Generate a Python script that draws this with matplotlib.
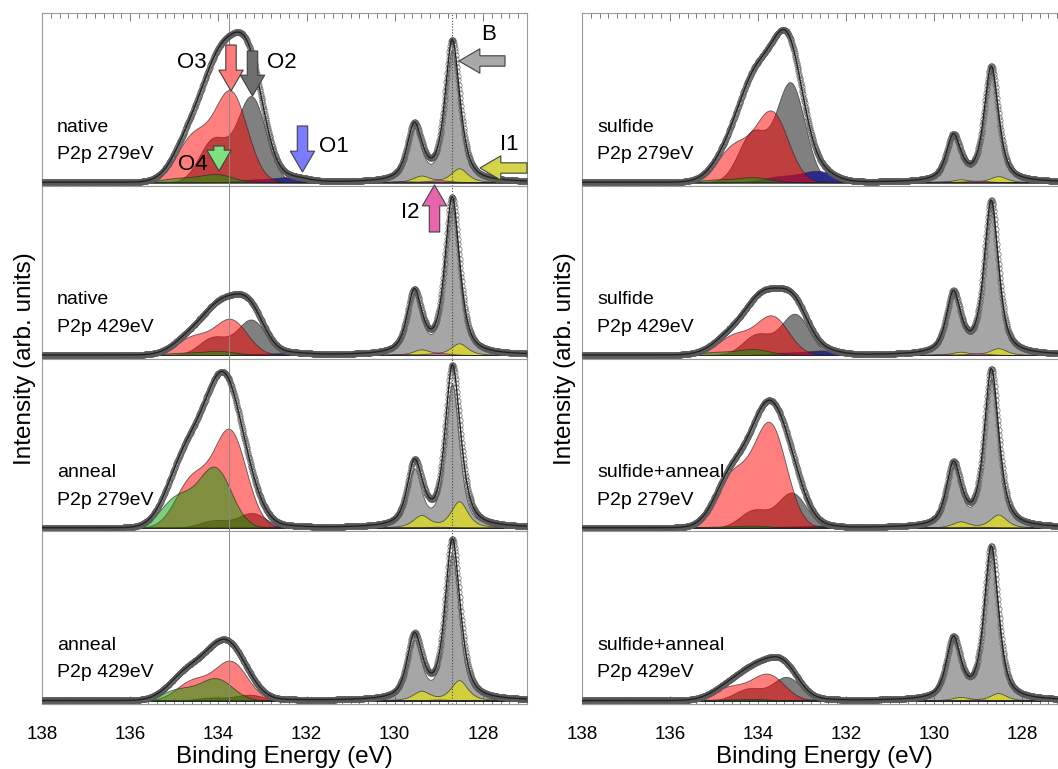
import numpy as np
import matplotlib
matplotlib.use("Agg")
import matplotlib.pyplot as plt
from matplotlib.ticker import FixedLocator, MultipleLocator

plt.rcParams['font.family'] = ['Liberation Sans', 'DejaVu Sans']

# ---------------- data ----------------
# panel order: left column top->bottom, then right column top->bottom
sample = ["native", "native", "anneal", "anneal",
          "sulfide", "sulfide", "sulfide+anneal", "sulfide+anneal"]
excitation = ["P2p 279eV", "P2p 429eV", "P2p 279eV", "P2p 429eV",
              "P2p 279eV", "P2p 429eV", "P2p 279eV", "P2p 429eV"]

# peak positions (eV) of the P2p3/2 line of each component
E_O1 = [132.35, 132.35, 132.40, 132.40, 132.64, 132.52, 132.60, 132.60]
E_O2 = [133.25, 133.25, 133.24, 133.30, 133.26, 133.16, 133.23, 133.35]
E_O3 = [133.72, 133.72, 133.74, 133.72, 133.69, 133.68, 133.73, 133.78]
E_O4 = [134.05, 134.00, 134.08, 134.05, 134.10, 134.10, 134.10, 134.10]
E_B = [128.70] * 8
E_I1 = [128.54] * 8
E_I2 = [129.00] * 8

# peak heights (arb. units) of the P2p3/2 line of each component
H_O1 = [5, 2, 1.5, 0.5, 11, 4.3, 2, 1]
H_O2 = [85, 35, 14.5, 5.7, 98.7, 40.7, 34.7, 23.3]
H_O3 = [89, 35, 95.6, 38.5, 69.3, 38.3, 102.3, 26]
H_O4 = [8, 4, 59, 21.6, 5, 5.7, 2, 1.5]
H_B = [130.6, 147.6, 142.4, 145.3, 110, 147.7, 147.8, 147.4]
H_I1 = [13.7, 11.5, 26, 20, 6, 6.7, 13, 7.3]
H_I2 = [2, 2, 1, 1, 1.5, 1.5, 1, 1]

# line shape per component: FWHM (eV), Lorentz fraction, 1/2 : 3/2 ratio
SO_SPLIT = 0.86
shape = {
    "O2": (0.754, 0.0, 0.50),
    "O1": (0.871, 0.0, 0.50),
    "O3": (0.871, 0.0, 0.50),
    "O4": (0.871, 0.0, 0.50),
    "B":  (0.38, 0.6, 0.39),
    "I1": (0.45, 0.6, 0.45),
    "I2": (0.60, 0.3, 0.50),
}
positions = {"O1": E_O1, "O2": E_O2, "O3": E_O3, "O4": E_O4,
             "B": E_B, "I1": E_I1, "I2": E_I2}
heights = {"O1": H_O1, "O2": H_O2, "O3": H_O3, "O4": H_O4,
           "B": H_B, "I1": H_I1, "I2": H_I2}

# ---------------- styles ----------------
fill_style = {
    "O2": ('#808080', 1),
    "O1": ('#2b2b8c', 2),
    "O3": ((1.0, 0.0, 0.0, 0.5), 3),
    "O4": ((0.0, 0.62, 0.0, 0.5), 4),
    "B":  ('#a6a6a6', 1),
    "I1": ('#d2cf3e', 2),
    "I2": ('#e060b0', 3),
}
EDGE = (0.15, 0.15, 0.15, 0.7)

W, H, DPI = 1058, 769, 100
fig = plt.figure(figsize=(W / DPI, H / DPI), dpi=DPI)

PANEL_TOP = 13
PANEL_H = 172.75
col_x = [(42, 485), (582, 484)]


def pvoigt(x, c, h, fwhm, eta):
    u = (x - c) / fwhm
    g = np.exp(-4 * np.log(2) * u ** 2)
    lor = 1.0 / (1.0 + 4 * u ** 2)
    return h * (eta * lor + (1 - eta) * g)


def doublet(x, c, h, name):
    fwhm, eta, ratio = shape[name]
    return pvoigt(x, c, h, fwhm, eta) + pvoigt(x, c + SO_SPLIT, h * ratio, fwhm, eta)


x = np.arange(126.9, 138.1001, 0.01)
axes = [[None] * 4, [None] * 4]

for col in range(2):
    x0, wpx = col_x[col]
    for row in range(4):
        i = col * 4 + row
        top = PANEL_TOP + row * PANEL_H
        bottom = top + PANEL_H
        ax = fig.add_axes([x0 / W, 1 - bottom / H, wpx / W, PANEL_H / H])
        axes[col][row] = ax
        ax.set_xlim(138, 127)
        ax.set_ylim(-3.5, PANEL_H - 3.5)

        total = np.zeros_like(x)
        for name in ["O2", "O1", "O3", "O4", "B", "I1", "I2"]:
            y = doublet(x, positions[name][i], heights[name][i], name)
            total += y
            fc, z = fill_style[name]
            ax.fill_between(x, 0, y, facecolor=fc, edgecolor=EDGE,
                            linewidth=0.6, zorder=z)

        ax.plot(x, total, linestyle='none', marker='o', markersize=3.8,
                mfc='none', mec='#5a5a5a', mew=0.45, zorder=6)
        ax.plot(x, total, color='#222222', lw=1.0, zorder=7)

        if col == 0:
            ax.axvline(133.75, color='#8a8a8a', lw=0.7, zorder=5)
            ax.axvline(128.70, color='#444444', lw=0.8,
                       linestyle=(0, (1, 1.6)), zorder=5)

        ax.text(0.031, 0.34, sample[i], transform=ax.transAxes,
                fontsize=14, ha='left', va='center', zorder=10)
        ax.text(0.031, 0.18, excitation[i], transform=ax.transAxes,
                fontsize=14, ha='left', va='center', zorder=10)

        for s in ax.spines.values():
            s.set_color('#9a9a9a')
            s.set_linewidth(0.8)
        ax.set_yticks([])
        ax.xaxis.set_major_locator(FixedLocator(np.arange(128, 139, 2)))
        ax.xaxis.set_minor_locator(MultipleLocator(0.2))
        ax.tick_params(axis='x', which='both', direction='in', color='#777777',
                       width=0.7, bottom=(row == 3), top=(row == 0),
                       labelbottom=(row == 3), labeltop=False,
                       labelsize=13.5, pad=16)
        ax.tick_params(axis='x', which='major', length=6)
        ax.tick_params(axis='x', which='minor', length=3.5)
        if row == 3:
            ax.set_xlabel("Binding Energy (eV)", fontsize=17.5, labelpad=2)

    fig.text((25 if col == 0 else 565) / W, 1 - 358.5 / H,
             "Intensity (arb. units)", rotation=90, fontsize=17.5,
             ha='center', va='center')

# ---------------- component markers (block arrows + labels) ----------------
arrow_specs = [
    # panel (col,row), tip, tail, face colour
    ((0, 0), (133.713, 91.25), (133.713, 137.25), '#ff7b7b'),
    ((0, 0), (133.226, 86.25), (133.226, 131.25), '#6e6e6e'),
    ((0, 0), (132.092, 10.25), (132.092, 56.25), '#7b7bff'),
    ((0, 0), (133.985, 11.25), (133.985, 36.25), '#7ee07e'),
    ((0, 0), (128.542, 121.25), (127.499, 121.25), '#a8a8a8'),
    ((0, 0), (128.066, 14.25), (127.000, 14.25), '#d4d44a'),
    ((0, 1), (129.098, 170.0), (129.098, 123.0), '#e864ac'),
]
label_specs = [
    ((0, 0), (134.598, 119.25), "O3"),
    ((0, 0), (132.557, 119.25), "O2"),
    ((0, 0), (131.377, 35.25), "O1"),
    ((0, 0), (134.575, 17.25), "O4"),
    ((0, 0), (127.862, 147.25), "B"),
    ((0, 0), (127.408, 37.25), "I1"),
    ((0, 1), (129.653, 143.0), "I2"),
]
for (c, r), tip, tail, fc in arrow_specs:
    ax = axes[c][r]
    ax.annotate('', xy=tip, xytext=tail, xycoords='data', textcoords='data',
                annotation_clip=False, zorder=12,
                arrowprops=dict(arrowstyle="simple,head_length=1.5,head_width=1.75,tail_width=0.75",
                                mutation_scale=10, fc=fc, ec='#404040', lw=0.8,
                                shrinkA=0, shrinkB=0))
for (c, r), pos, txt in label_specs:
    axes[c][r].text(pos[0], pos[1], txt, fontsize=16, ha='center',
                    va='center', zorder=12)

fig.savefig("out.png", dpi=DPI)
